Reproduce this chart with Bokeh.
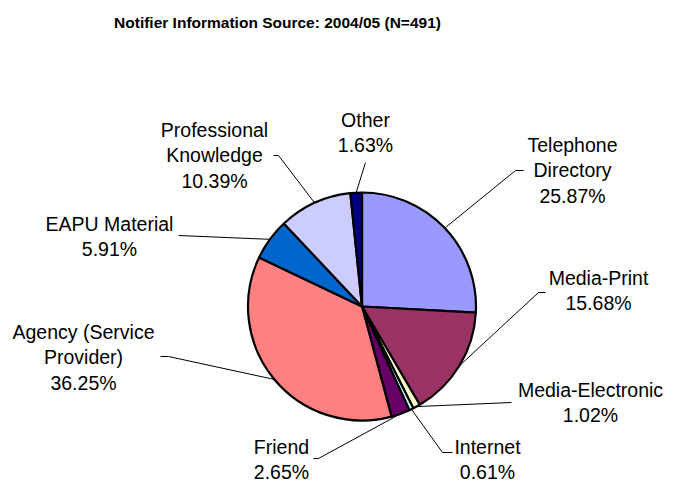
import math
from bokeh.plotting import figure
from bokeh.models import Range1d, ColumnDataSource
from bokeh.core.properties import value
from bokeh.embed import file_html
from bokeh.resources import INLINE

# ---- data ----
categories = ["Telephone Directory", "Media-Print", "Media-Electronic", "Internet",
              "Friend", "Agency (Service Provider)", "EAPU Material",
              "Professional Knowledge", "Other"]
percentages = [25.87, 15.68, 1.02, 0.61, 2.65, 36.25, 5.91, 10.39, 1.63]
colors = ["#9999FF", "#993366", "#FFFFCC", "#CCFFFF", "#660066",
          "#FF8080", "#0066CC", "#CCCCFF", "#000080"]
label_lines = [["Telephone", "Directory"], ["Media-Print"], ["Media-Electronic"],
               ["Internet"], ["Friend"], ["Agency (Service", "Provider)"],
               ["EAPU Material"], ["Professional", "Knowledge"], ["Other"]]
title = "Notifier Information Source: 2004/05 (N=491)"

# ---- layout (picture pixel coords, y downwards) ----
W, H = 666, 484
CX, CY, R = 361.5, 306.0, 114.0
label_centers = [(572, 144), (598, 277), (590, 389), (487, 446), (281, 446),
                 (83, 331), (109, 223), (214, 129), (365, 119)]
elbows = [[(523, 170), (515, 170)], [(545, 292), (538, 292)], [(511, 402)],
          [(452, 452), (442, 452)], [(313, 458), (318, 458)],
          [(160, 356), (168, 356)], [(178, 235)], [(273, 155), (278, 155)],
          [(365, 162)]]
LINE_H = 25.5


def Y(y):
    return H - y


p = figure(width=W, height=H, output_backend="svg", toolbar_location=None,
           x_range=Range1d(0, W), y_range=Range1d(0, H),
           min_border=0, outline_line_color=None)
p.axis.visible = False
p.grid.visible = False
p.background_fill_color = "white"
p.border_fill_color = "white"

total = sum(percentages)
starts, ends, mids = [], [], []
cum = 0.0
for v in percentages:
    a0 = math.pi / 2 - 2 * math.pi * cum / total
    cum += v
    a1 = math.pi / 2 - 2 * math.pi * cum / total
    starts.append(a1)
    ends.append(a0)
    mids.append((a0 + a1) / 2)

src = ColumnDataSource(dict(start=starts, end=ends, color=colors,
                            x=[CX] * len(percentages), y=[Y(CY)] * len(percentages)))
p.wedge(x="x", y="y", radius=R, start_angle="start", end_angle="end",
        fill_color="color", line_color="black", line_width=2.2, source=src)

# leader lines
xs, ys = [], []
for el, m in zip(elbows, mids):
    ex = CX + R * math.cos(m)
    ey = Y(CY) + R * math.sin(m)
    xs.append([pt[0] for pt in el] + [ex])
    ys.append([Y(pt[1]) for pt in el] + [ey])
p.multi_line(xs, ys, line_color="black", line_width=1)

# labels
tx, ty, tt = [], [], []
for lines, pct, (lx, ly) in zip(label_lines, percentages, label_centers):
    for i, s in enumerate(lines + [f"{pct:.2f}%"]):
        tx.append(lx)
        ty.append(Y(ly + i * LINE_H))
        tt.append(s)
p.text(x=tx, y=ty, text=tt, text_align="center", text_baseline="middle",
       text_font=value("Liberation Sans"), text_font_size="19.5px", text_color="black")

p.text(x=[277], y=[Y(22)], text=[title], text_align="center", text_baseline="middle",
       text_font=value("Liberation Sans"), text_font_style="bold",
       text_font_size="15.5px", text_color="black")

open("out.html", "w").write(file_html(p, INLINE))
